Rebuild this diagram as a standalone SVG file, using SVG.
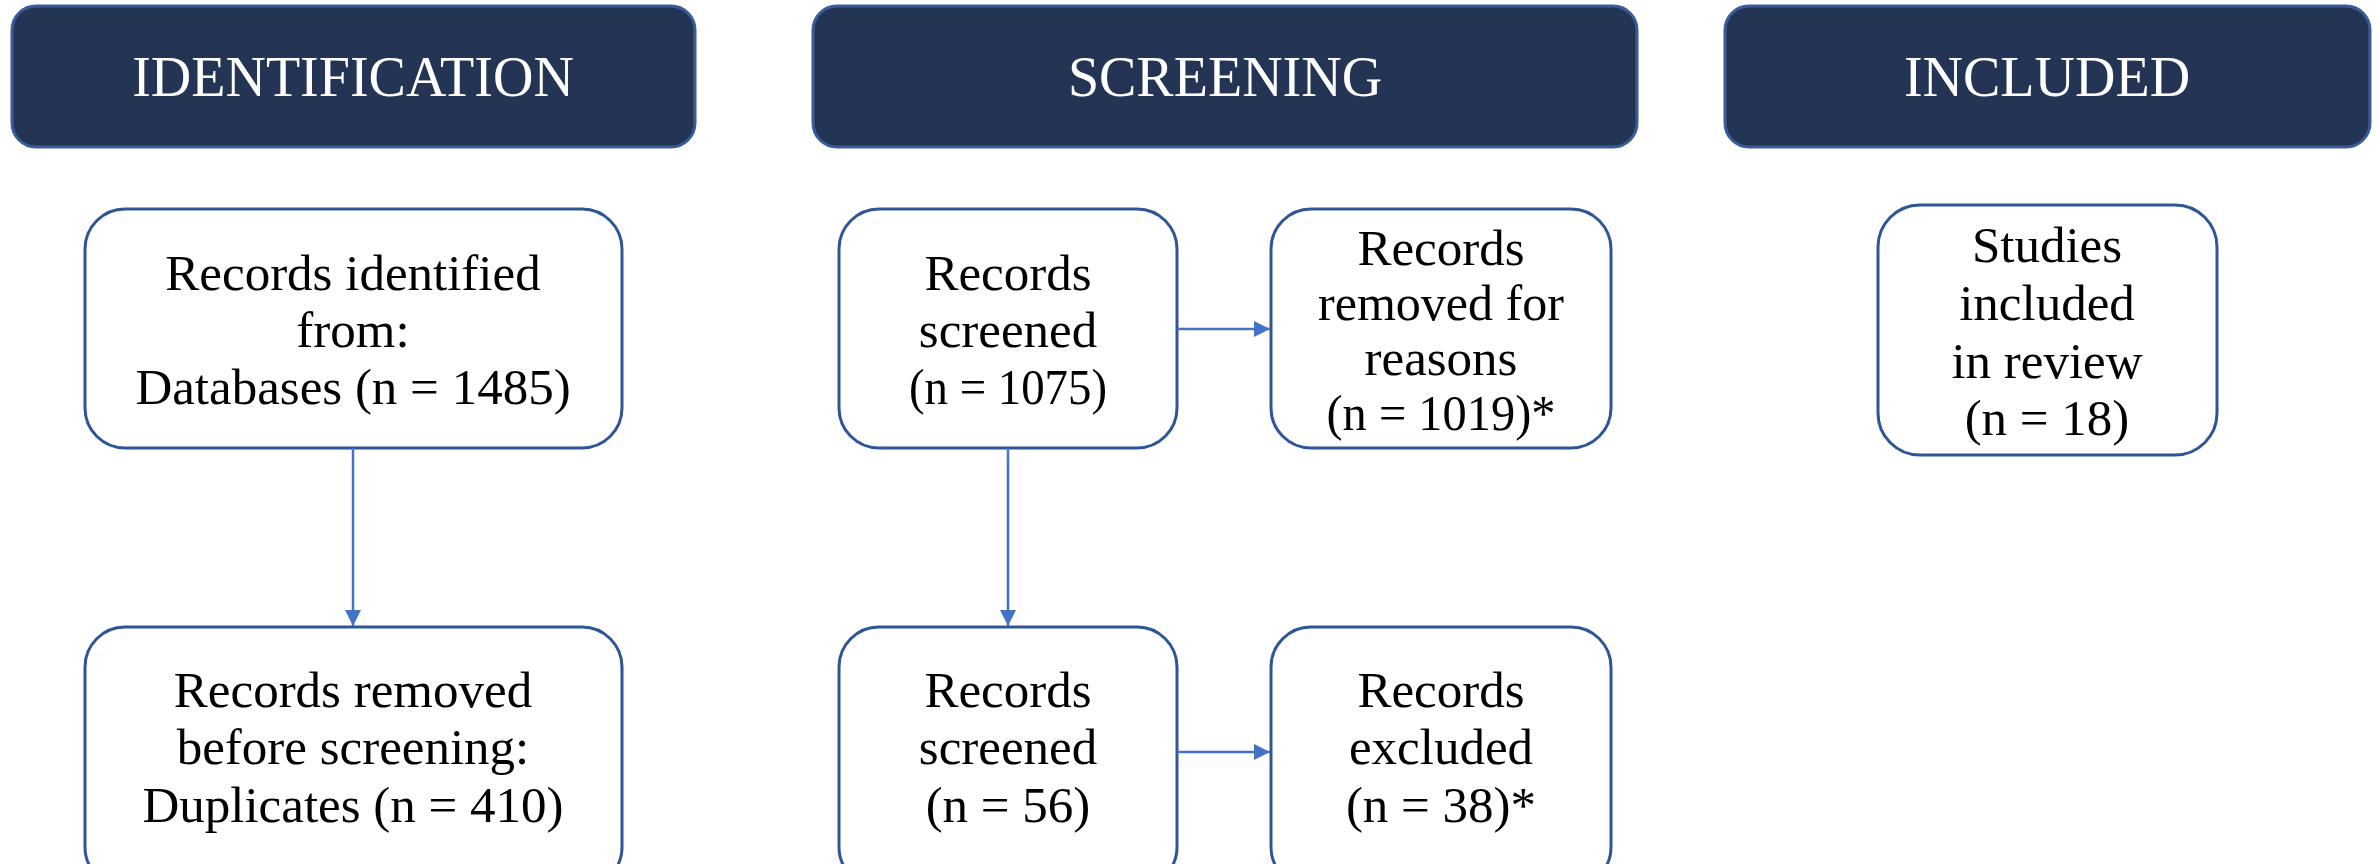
<svg xmlns="http://www.w3.org/2000/svg" width="2379" height="864" viewBox="0 0 2379 864">
<defs>
<style>
.hdr{fill:#243455;stroke:#3A5C99;stroke-width:3}
.hdrt{fill:#ffffff;font-family:"Liberation Serif","Times New Roman",serif;font-size:56px;text-anchor:middle}
.box{fill:#ffffff;stroke:#2F5597;stroke-width:3}
.t{fill:#000000;font-family:"Liberation Serif","Times New Roman",serif;font-size:51px;text-anchor:middle}
.con{stroke:#4472C4;stroke-width:2.5;fill:none}
</style>
<marker id="ah" viewBox="0 0 10 10" refX="10" refY="5" markerWidth="6.5" markerHeight="6.5" orient="auto" markerUnits="strokeWidth">
<path d="M0,0 L10,5 L0,10 z" fill="#4472C4"/>
</marker>
</defs>
<rect width="2379" height="864" fill="#ffffff"/>
<g id="hdr-identification">
<rect class="hdr" x="12" y="6" width="683" height="141" rx="24"/>
<text class="hdrt" x="353" y="96">IDENTIFICATION</text>
</g>
<g id="hdr-screening">
<rect class="hdr" x="813" y="6" width="824" height="141" rx="24"/>
<text class="hdrt" x="1225" y="96">SCREENING</text>
</g>
<g id="hdr-included">
<rect class="hdr" x="1725" y="6" width="645" height="141" rx="24"/>
<text class="hdrt" x="2047" y="96">INCLUDED</text>
</g>
<g id="n-identified">
<rect class="box" x="85" y="209" width="537" height="239" rx="40"/>
<text class="t" x="353" y="290">Records identified</text>
<text class="t" x="353" y="347">from:</text>
<text class="t" x="353" y="404">Databases (n = 1485)</text>
</g>
<g id="n-duplicates">
<rect class="box" x="85" y="627" width="537" height="260" rx="40"/>
<text class="t" x="353" y="707">Records removed</text>
<text class="t" x="353" y="764">before screening:</text>
<text class="t" x="353" y="822">Duplicates (n = 410)</text>
</g>
<g id="n-screened1">
<rect class="box" x="839" y="209" width="338" height="239" rx="40"/>
<text class="t" x="1008" y="290">Records</text>
<text class="t" x="1008" y="347">screened</text>
<text class="t" x="1008" y="404" textLength="198" lengthAdjust="spacingAndGlyphs">(n = 1075)</text>
</g>
<g id="n-removed">
<rect class="box" x="1271" y="209" width="340" height="239" rx="40"/>
<text class="t" x="1441" y="265">Records</text>
<text class="t" x="1441" y="320" textLength="246" lengthAdjust="spacingAndGlyphs">removed for</text>
<text class="t" x="1441" y="375">reasons</text>
<text class="t" x="1441" y="430" textLength="229" lengthAdjust="spacingAndGlyphs">(n = 1019)*</text>
</g>
<g id="n-screened2">
<rect class="box" x="839" y="627" width="338" height="260" rx="40"/>
<text class="t" x="1008" y="707">Records</text>
<text class="t" x="1008" y="764">screened</text>
<text class="t" x="1008" y="822">(n = 56)</text>
</g>
<g id="n-excluded">
<rect class="box" x="1271" y="627" width="340" height="260" rx="40"/>
<text class="t" x="1441" y="707">Records</text>
<text class="t" x="1441" y="764">excluded</text>
<text class="t" x="1441" y="822">(n = 38)*</text>
</g>
<g id="n-included">
<rect class="box" x="1878" y="205" width="339" height="250" rx="42"/>
<text class="t" x="2047" y="262">Studies</text>
<text class="t" x="2047" y="320">included</text>
<text class="t" x="2047" y="378">in review</text>
<text class="t" x="2047" y="435">(n = 18)</text>
</g>
<g id="connectors">
<line class="con" x1="353" y1="448" x2="353" y2="626" marker-end="url(#ah)"/>
<line class="con" x1="1008" y1="448" x2="1008" y2="626" marker-end="url(#ah)"/>
<line class="con" x1="1177" y1="329" x2="1270" y2="329" marker-end="url(#ah)"/>
<line class="con" x1="1177" y1="752" x2="1270" y2="752" marker-end="url(#ah)"/>
</g>
</svg>
